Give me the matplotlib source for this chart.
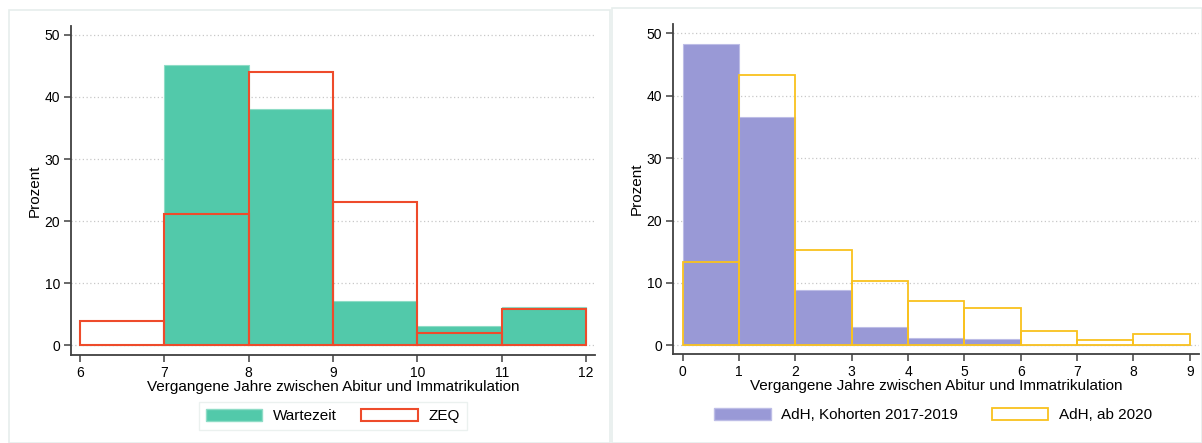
import matplotlib
matplotlib.use("Agg")
import matplotlib.pyplot as plt
from matplotlib.patches import Rectangle, Patch

plt.rcParams['font.family'] = ['Liberation Sans', 'DejaVu Sans']

# Left panel: years between Abitur and enrolment, bins 6..12
left_edges = [6, 7, 8, 9, 10, 11]
wartezeit = [0.0, 45.2, 38.0, 7.1, 3.0, 6.1]
zeq = [3.8, 21.1, 44.1, 23.0, 1.9, 5.8]

# Right panel: bins 0..9
right_edges = [0, 1, 2, 3, 4, 5, 6, 7, 8]
adh_1719 = [48.3, 36.6, 8.8, 3.0, 1.2, 1.0, 0.0, 0.0, 0.0]
adh_2020 = [13.4, 43.4, 15.2, 10.3, 7.1, 6.0, 2.35, 0.9, 1.8]

x_label = "Vergangene Jahre zwischen Abitur und Immatrikulation"
y_label = "Prozent"
y_ticks = [0, 10, 20, 30, 40, 50]

GREEN = "#52C9AA"
RED = "#EE4B2B"
PURPLE = "#9999D6"
YELLOW = "#F9C21E"
SPINE = "#404040"

W, H = 1202, 443
fig = plt.figure(figsize=(W / 100, H / 100), dpi=100)

# light panel frames
for (x0, y0, x1) in [(9, 10, 610), (612, 8, 1202)]:
    fig.patches.append(Rectangle((x0 / W, 0), (x1 - x0) / W, 1 - y0 / H,
                                 transform=fig.transFigure, fill=False,
                                 edgecolor="#E6EEEC", linewidth=1.2))


def make_axes(px_left, px_right, px_top, px_bottom):
    return fig.add_axes([px_left / W, 1 - px_bottom / H,
                         (px_right - px_left) / W, (px_bottom - px_top) / H])


def style(ax, xlim, ylim, xticks):
    ax.set_xlim(*xlim)
    ax.set_ylim(*ylim)
    ax.set_xticks(xticks)
    ax.set_yticks(y_ticks)
    for s in ("top", "right"):
        ax.spines[s].set_visible(False)
    for s in ("left", "bottom"):
        ax.spines[s].set_color(SPINE)
        ax.spines[s].set_linewidth(1.3)
    ax.tick_params(direction="out", length=5, width=1.1, color=SPINE,
                   labelsize=10, pad=3)
    ax.yaxis.grid(True, linestyle=(0, (1, 2)), color="#C8C8C8", linewidth=0.9)
    ax.set_axisbelow(True)
    ax.set_xlabel(x_label, fontsize=11, labelpad=0)
    ax.set_ylabel(y_label, fontsize=11, labelpad=2)


# Left panel
axL = make_axes(71, 595, 26, 355)
axL.bar(left_edges, wartezeit, width=1, align="edge", color=GREEN,
        edgecolor="#8EDCC6", linewidth=0.8, zorder=2)
axL.bar(left_edges, zeq, width=1, align="edge", fill=False,
        edgecolor=RED, linewidth=1.5, zorder=3)
style(axL, (5.893, 12.107), (-1.61, 51.45), range(6, 13))

legL = fig.legend(handles=[Patch(facecolor=GREEN, edgecolor="#8EDCC6", label="Wartezeit"),
                           Patch(facecolor="white", edgecolor=RED, linewidth=1.5, label="ZEQ")],
                  loc="center", bbox_to_anchor=(333 / W, 1 - 416 / H), ncol=2,
                  fontsize=11, frameon=True, fancybox=False, edgecolor="#E6EEEC",
                  handlelength=3.7, handleheight=0.85, handletextpad=0.7,
                  columnspacing=1.6, borderpad=0.45)
legL.get_frame().set_linewidth(1.0)

# Right panel
axR = make_axes(673.4, 1198.7, 24, 354)
axR.bar(right_edges, adh_1719, width=1, align="edge", color=PURPLE,
        edgecolor="#BDBDE6", linewidth=0.8, zorder=2)
axR.bar(right_edges, adh_2020, width=1, align="edge", fill=False,
        edgecolor=YELLOW, linewidth=1.3, zorder=3)
style(axR, (-0.167, 9.16), (-1.39, 51.5), range(0, 10))

fig.legend(handles=[Patch(facecolor=PURPLE, edgecolor="#BDBDE6", label="AdH, Kohorten 2017-2019"),
                    Patch(facecolor="white", edgecolor=YELLOW, linewidth=1.3, label="AdH, ab 2020")],
           loc="center", bbox_to_anchor=(933 / W, 1 - 415 / H), ncol=2,
           fontsize=11, frameon=False,
           handlelength=3.7, handleheight=0.85, handletextpad=0.7,
           columnspacing=2.2)

fig.savefig("out.png", dpi=100)
